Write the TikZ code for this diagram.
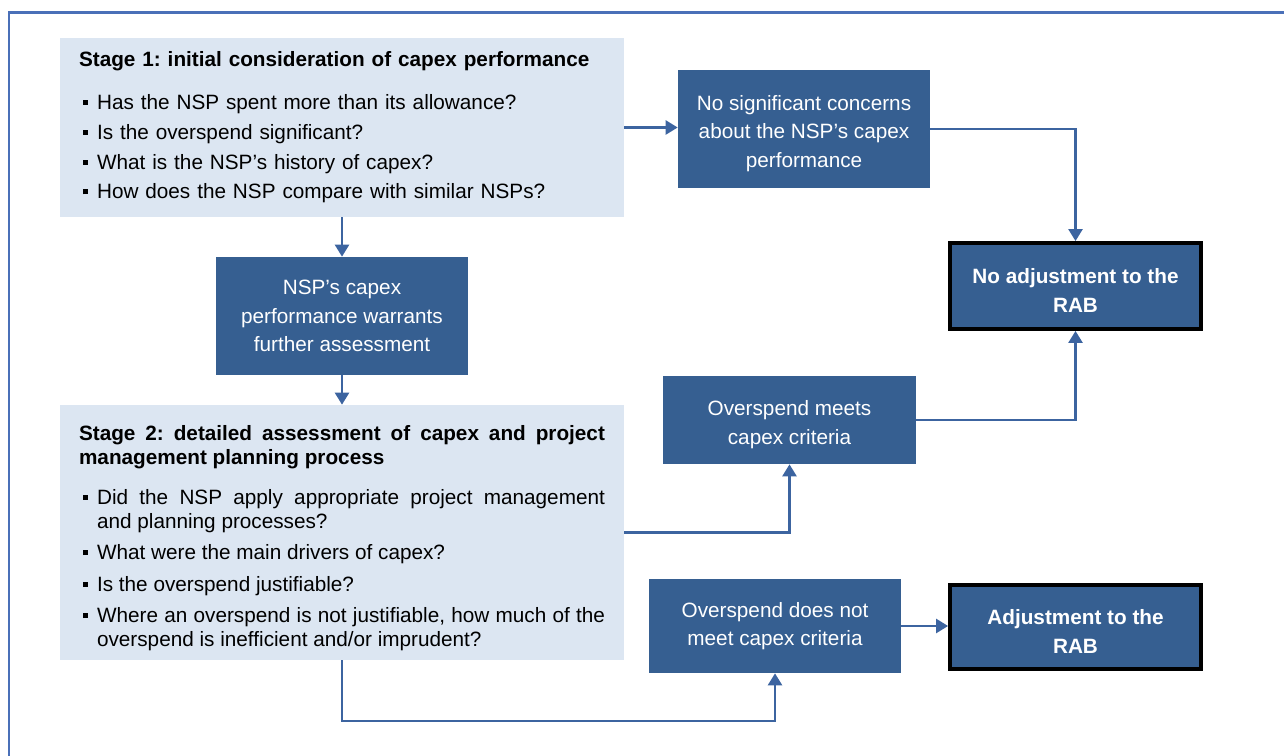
\documentclass[tikz,border=0pt]{standalone}
\usepackage{fontspec}
\setmainfont{Liberation Sans}
\usetikzlibrary{arrows.meta}

\definecolor{boxblue}{HTML}{365F91}
\definecolor{stagefill}{HTML}{DCE6F2}
\definecolor{linkblue}{HTML}{3C64A0}
\definecolor{frameblue}{HTML}{4A70B8}

% square bullet with hanging indent
\newlength\bulind
\setlength\bulind{0.36cm}
\newcommand\bitem{\par\noindent\hangindent=\bulind\hangafter=1%
  \hbox to \bulind{\hspace{0.07cm}\rule[0.09cm]{0.1cm}{0.1cm}\hfil}}
% taller first line, pushes box text down a little
\newcommand\tstrut{\rule{0pt}{13.5pt}}

\begin{document}
\frenchspacing
\begin{tikzpicture}[x=0.02cm, y=-0.02cm, >={Triangle[length=0.24cm,width=0.28cm]},
    stagebox/.style={fill=stagefill, minimum width=11.28cm, text width=10.52cm,
      inner sep=0pt, font=\fontsize{11.8}{13.5}\selectfont},
    darkbox/.style={fill=boxblue, text=white, align=center, inner sep=0pt,
      minimum width=5.06cm, font=\fontsize{11.8}{16.3}\selectfont},
    endbox/.style={darkbox, draw=black, line width=2.2pt, minimum width=5.02cm,
      font=\bfseries\fontsize{11.8}{16.3}\selectfont},
    link/.style={linkblue, line width=1.4pt, ->}]
    % Page size and frame
    \useasboundingbox (0,0) rectangle (1284,756);
    \draw[frameblue, line width=1.7pt] (9,756) -- (9,13) -- (1284,13);

    % Stage boxes
    \node[stagebox, align=left, minimum height=3.58cm] (s1) at (342,127.5) {%
      \frenchspacing\parskip=0.124cm
      \textbf{Stage 1: initial consideration of capex performance}\par\vspace{0.25cm}
      \bitem Has the NSP spent more than its allowance?
      \bitem Is the overspend significant?
      \bitem What is the NSP's history of capex?
      \bitem How does the NSP compare with similar NSPs?\par};
    \node[stagebox, align=justify, minimum height=5.1cm] (s2) at (342,532.5) {%
      \frenchspacing\parskip=0.155cm
      \noindent\rule{0pt}{15pt}\textbf{Stage 2: detailed assessment of capex and project\linebreak
        management planning process}\par\vspace{0.17cm}
      \bitem Did the NSP apply appropriate project management\linebreak
        and planning processes?
      \bitem What were the main drivers of capex?
      \bitem Is the overspend justifiable?
      \bitem Where an overspend is not justifiable, how much of the\linebreak
        overspend is inefficient and/or imprudent?\par};

    % Outcome boxes
    \node[darkbox, minimum height=2.36cm] (nsp) at (342,316)
      {NSP's capex\\performance warrants\\further assessment};
    \node[darkbox, minimum width=5.04cm, minimum height=2.36cm] (nsc) at (804,129)
      {\tstrut No significant concerns\\about the NSP's capex\\performance};
    \node[darkbox, minimum height=1.76cm] (meets) at (789.5,420)
      {\tstrut Overspend meets\\capex criteria};
    \node[darkbox, minimum width=5.04cm, minimum height=1.88cm] (notmeet) at (775,626)
      {Overspend does not\\meet capex criteria};
    \node[endbox, minimum height=1.72cm] (noadj) at (1075.5,286)
      {\tstrut No adjustment to the\\RAB};
    \node[endbox, minimum height=1.68cm] (adj) at (1075.5,627)
      {\tstrut Adjustment to the\\RAB};
    \coordinate (low) at (342,721);

    % Connectors
    \draw[link] (s1.east) -- (s1.east -| nsc.west);
    \draw[link] (nsc.east) -| (noadj.north);
    \draw[link] (s1.south) -- (nsp.north);
    \draw[link] (nsp.south) -- (s2.north);
    \draw[link] (s2.east) -| (meets.south);
    \draw[link] (meets.east) -| (noadj.south);
    \draw[link] (s2.south) -- (low) -| (notmeet.south);
    \draw[link] (notmeet.east) -- (notmeet.east -| adj.west);
\end{tikzpicture}
\end{document}
